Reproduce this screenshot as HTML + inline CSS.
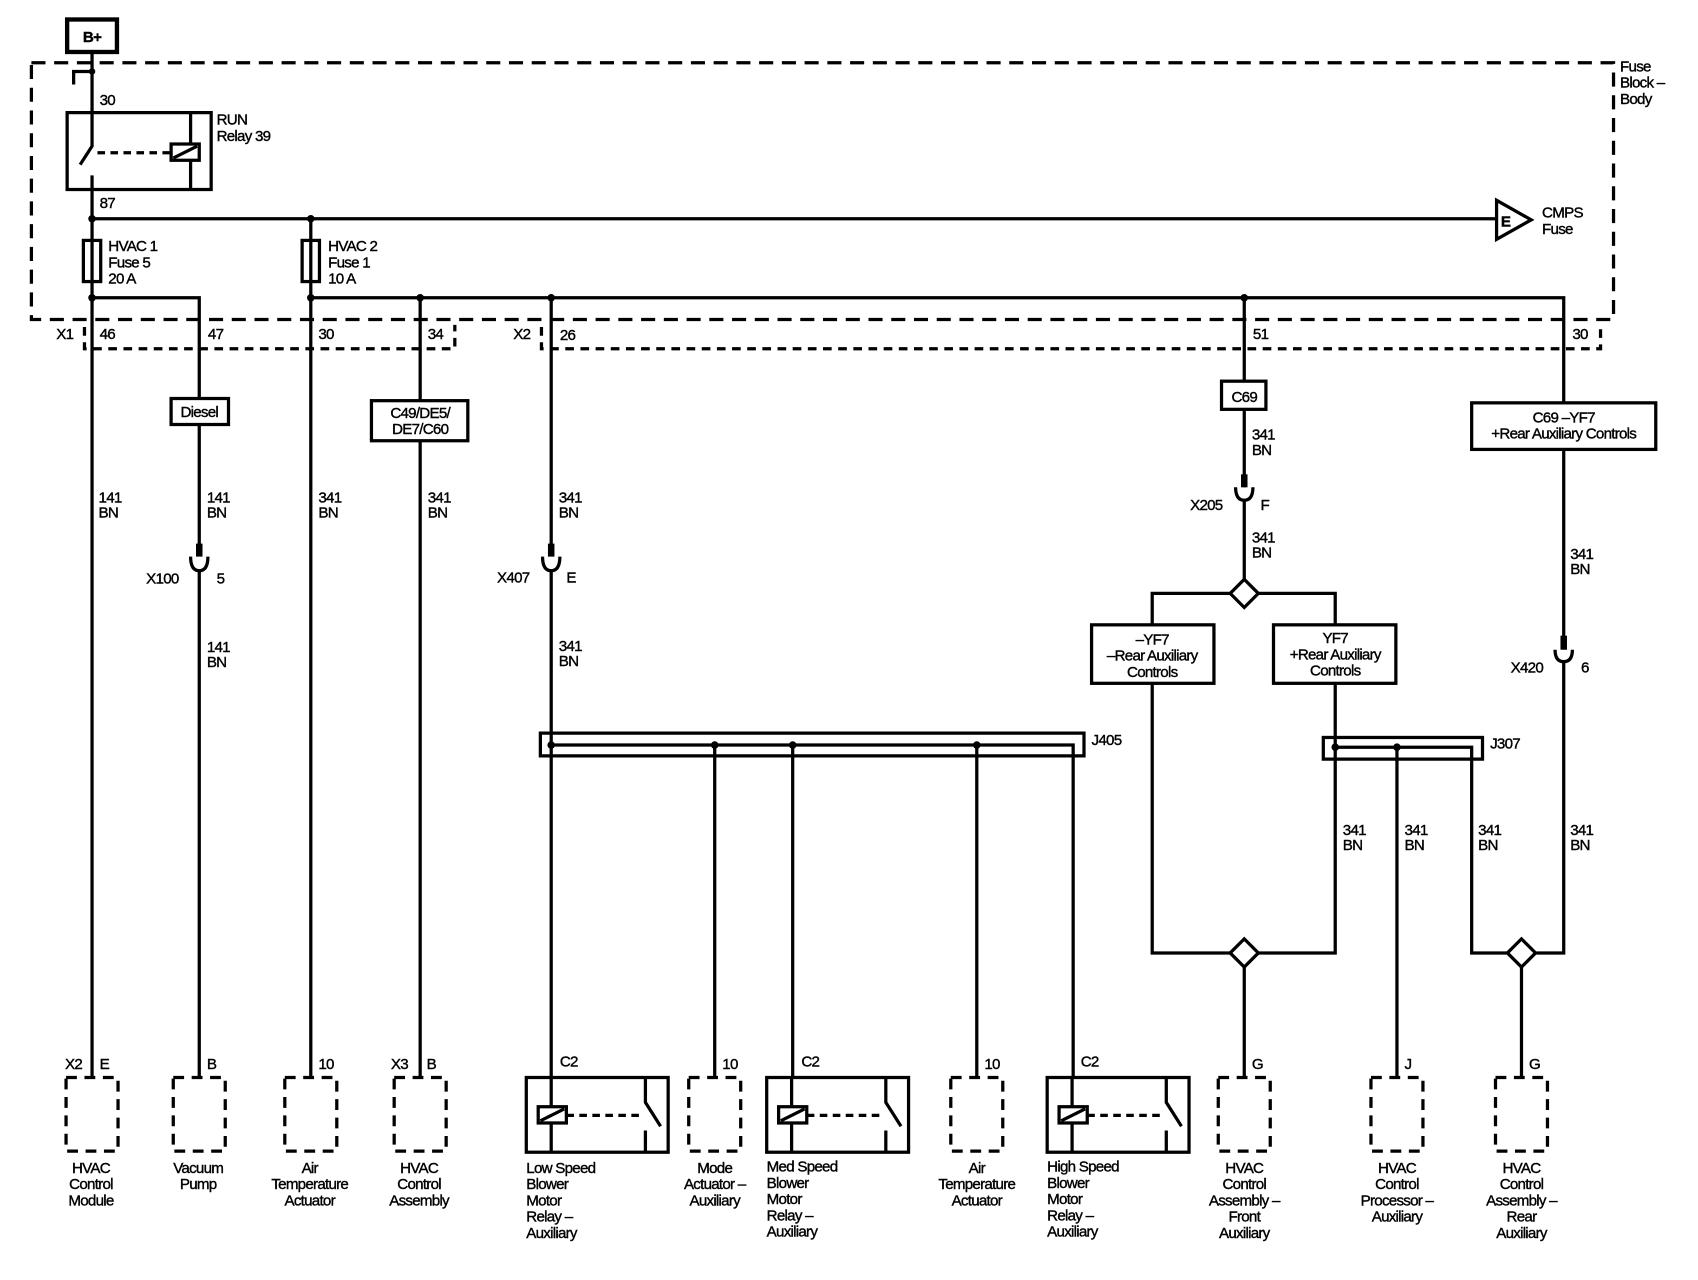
<!DOCTYPE html>
<html><head><meta charset="utf-8"><style>
html,body{margin:0;padding:0;background:#fff}
svg{display:block}
text{font-family:"Liberation Sans",sans-serif;font-size:14px;letter-spacing:-0.7px;fill:#000;stroke:#000;stroke-width:0.35px}
.b{font-weight:bold}
.c{text-anchor:middle}
</style></head><body>
<svg width="1698" height="1280" viewBox="0 0 1568 1182" preserveAspectRatio="none" xmlns="http://www.w3.org/2000/svg">
<g fill="none" stroke="#000" stroke-width="3">
<rect x="62" y="18" width="46" height="30" stroke-width="4"/>
<rect x="29" y="58" width="1461" height="237" stroke-dasharray="13,8"/>
<path d="M85,48V135L74,152M85,162V202"/>
<path d="M68,78V66H85"/>
<rect x="62" y="104" width="133" height="71"/>
<path d="M176,104V175"/>
<path d="M90,141H158" stroke-dasharray="7,5"/>
<rect x="158" y="133" width="26" height="15" stroke-width="3" fill="#fff"/>
<path d="M160,146L182,135"/>
<path d="M85,202H1382"/>
<polygon points="1382,185 1382,221 1414,203"/>
<rect x="77" y="222" width="16" height="38"/>
<rect x="279" y="222" width="16" height="38"/>
<path d="M85,202V995M287,202V995"/>
<path d="M85,275H184V368"/>
<path d="M287,275H1444V372"/>
<path d="M78,302V322H420V300" stroke-dasharray="8,6"/>
<path d="M500,302V322H1478V300" stroke-dasharray="8,6"/>
<rect x="158" y="368" width="53" height="24"/>
<path d="M184,392V512M184,527V995"/>
<path d="M176,514Q176,527 184,527Q192,527 192,514"/>
<rect x="343" y="370" width="89" height="37"/>
<path d="M388,275V370M388,407V995"/>
<path d="M509,275V512M509,527V688"/>
<path d="M501,514Q501,527 509,527Q517,527 517,514"/>
<rect x="499" y="677" width="502" height="21"/>
<path d="M509,688H991V995M509,688V995M660,688V995M732,688V995M902,688V995"/>
<rect x="1128" y="352" width="41" height="26"/>
<path d="M1149,275V352M1149,378V450M1149,462V535"/>
<path d="M1141,450Q1141,462 1149,462Q1157,462 1157,450"/>
<path d="M1136,548L1149,535L1162,548L1149,561Z"/>
<path d="M1136,548H1064V577M1162,548H1233V577"/>
<rect x="1008" y="577" width="113" height="54"/>
<rect x="1176" y="577" width="113" height="54"/>
<path d="M1064,631V880H1136M1233,631V880H1162"/>
<path d="M1136,880L1149,867L1162,880L1149,893Z"/>
<path d="M1149,893V995"/>
<rect x="1222" y="681" width="147" height="20"/>
<path d="M1233,690H1359V880H1392M1290,690V995"/>
<rect x="1359" y="372" width="170" height="43"/>
<path d="M1444,415V598M1444,611V880H1418"/>
<path d="M1436,600Q1436,611 1444,611Q1452,611 1452,600"/>
<path d="M1392,880L1405,867L1418,880L1405,893Z"/>
<path d="M1405,893V995"/>
<g stroke-dasharray="10,7">
<rect x="61" y="995" width="48" height="68"/>
<rect x="160" y="995" width="48" height="68"/>
<rect x="263" y="995" width="48" height="68"/>
<rect x="364" y="995" width="48" height="68"/>
<rect x="636" y="995" width="48" height="68"/>
<rect x="878" y="995" width="48" height="68"/>
<rect x="1125" y="995" width="48" height="68"/>
<rect x="1266" y="995" width="48" height="68"/>
<rect x="1381" y="995" width="48" height="68"/>
</g>
<g id="r1">
<rect x="486" y="995" width="131" height="69"/>
<path d="M509,995V1064M596,995V1018L610,1040M596,1044V1064"/>
<path d="M523,1030H594" stroke-dasharray="7,5"/>
<rect x="497" y="1022" width="26" height="15" fill="#fff"/>
<path d="M499,1035L521,1024"/>
</g>
<use href="#r1" x="222"/>
<use href="#r1" x="481"/>
</g>
<g fill="#000">
<rect x="181" y="502" width="6" height="12"/>
<rect x="506" y="502" width="6" height="12"/>
<rect x="1146" y="438" width="6" height="12"/>
<rect x="1441" y="587" width="6" height="13"/>
<circle cx="85" cy="66" r="3"/><circle cx="85" cy="202" r="3.5"/><circle cx="287" cy="202" r="3.5"/>
<circle cx="85" cy="275" r="3.5"/><circle cx="287" cy="275" r="3.5"/><circle cx="388" cy="275" r="3.5"/>
<circle cx="509" cy="275" r="3.5"/><circle cx="1149" cy="275" r="3.5"/>
<circle cx="509" cy="688" r="3.5"/><circle cx="660" cy="688" r="3.5"/><circle cx="732" cy="688" r="3.5"/><circle cx="902" cy="688" r="3.5"/>
<circle cx="1233" cy="690" r="3.5"/><circle cx="1290" cy="690" r="3.5"/>
</g>
<text x="85" y="39" class="c b">B+</text>
<text x="92" y="97">30</text>
<text x="200" y="115">RUN</text><text x="200" y="130">Relay 39</text>
<text x="92" y="192">87</text>
<text x="1386" y="209" class="b">E</text>
<text x="1424" y="201">CMPS</text><text x="1424" y="216">Fuse</text>
<text x="1496" y="66">Fuse</text><text x="1496" y="81">Block –</text><text x="1496" y="96">Body</text>
<text x="100" y="232">HVAC 1</text><text x="100" y="247">Fuse 5</text><text x="100" y="262">20 A</text>
<text x="303" y="232">HVAC 2</text><text x="303" y="247">Fuse 1</text><text x="303" y="262">10 A</text>
<text x="52" y="313">X1</text><text x="92" y="313">46</text><text x="192" y="313">47</text><text x="294" y="313">30</text><text x="395" y="313">34</text>
<text x="474" y="313">X2</text><text x="517" y="314">26</text><text x="1157" y="313">51</text><text x="1452" y="313">30</text>
<text x="184" y="385" class="c">Diesel</text>
<text x="388" y="386" class="c">C49/DE5/</text><text x="388" y="401" class="c">DE7/C60</text>
<text x="1149" y="371" class="c">C69</text>
<text x="1444" y="390" class="c">C69 –YF7</text><text x="1444" y="405" class="c">+Rear Auxiliary Controls</text>
<text x="91" y="464">141</text><text x="91" y="478">BN</text>
<text x="191" y="464">141</text><text x="191" y="478">BN</text>
<text x="294" y="464">341</text><text x="294" y="478">BN</text>
<text x="395" y="464">341</text><text x="395" y="478">BN</text>
<text x="516" y="464">341</text><text x="516" y="478">BN</text>
<text x="135" y="539">X100</text><text x="200" y="539">5</text>
<text x="191" y="602">141</text><text x="191" y="616">BN</text>
<text x="459" y="538">X407</text><text x="523" y="538">E</text>
<text x="516" y="601">341</text><text x="516" y="615">BN</text>
<text x="1156" y="406">341</text><text x="1156" y="420">BN</text>
<text x="1099" y="471">X205</text><text x="1164" y="471">F</text>
<text x="1156" y="501">341</text><text x="1156" y="515">BN</text>
<text x="1450" y="516">341</text><text x="1450" y="530">BN</text>
<text x="1395" y="621">X420</text><text x="1460" y="621">6</text>
<text x="1064" y="595" class="c">–YF7</text><text x="1064" y="610" class="c">–Rear Auxiliary</text><text x="1064" y="625" class="c">Controls</text>
<text x="1233" y="594" class="c">YF7</text><text x="1233" y="609" class="c">+Rear Auxiliary</text><text x="1233" y="624" class="c">Controls</text>
<text x="1008" y="688">J405</text><text x="1376" y="691">J307</text>
<text x="1240" y="771">341</text><text x="1240" y="785">BN</text>
<text x="1297" y="771">341</text><text x="1297" y="785">BN</text>
<text x="1365" y="771">341</text><text x="1365" y="785">BN</text>
<text x="1450" y="771">341</text><text x="1450" y="785">BN</text>
<text x="60" y="987">X2</text><text x="92" y="987">E</text>
<text x="191" y="987">B</text><text x="294" y="987">10</text>
<text x="361" y="987">X3</text><text x="394" y="987">B</text>
<text x="517" y="985">C2</text><text x="667" y="987">10</text><text x="740" y="985">C2</text>
<text x="909" y="987">10</text><text x="998" y="985">C2</text>
<text x="1156" y="987">G</text><text x="1297" y="987">J</text><text x="1412" y="987">G</text>
<text x="84" y="1083" class="c">HVAC</text><text x="84" y="1098" class="c">Control</text><text x="84" y="1113" class="c">Module</text>
<text x="183" y="1083" class="c">Vacuum</text><text x="183" y="1098" class="c">Pump</text>
<text x="286" y="1083" class="c">Air</text><text x="286" y="1098" class="c">Temperature</text><text x="286" y="1113" class="c">Actuator</text>
<text x="387" y="1083" class="c">HVAC</text><text x="387" y="1098" class="c">Control</text><text x="387" y="1113" class="c">Assembly</text>
<text x="660" y="1083" class="c">Mode</text><text x="660" y="1098" class="c">Actuator –</text><text x="660" y="1113" class="c">Auxiliary</text>
<text x="902" y="1083" class="c">Air</text><text x="902" y="1098" class="c">Temperature</text><text x="902" y="1113" class="c">Actuator</text>
<text x="1149" y="1083" class="c">HVAC</text><text x="1149" y="1098" class="c">Control</text><text x="1149" y="1113" class="c">Assembly –</text><text x="1149" y="1128" class="c">Front</text><text x="1149" y="1143" class="c">Auxiliary</text>
<text x="1290" y="1083" class="c">HVAC</text><text x="1290" y="1098" class="c">Control</text><text x="1290" y="1113" class="c">Processor –</text><text x="1290" y="1128" class="c">Auxiliary</text>
<text x="1405" y="1083" class="c">HVAC</text><text x="1405" y="1098" class="c">Control</text><text x="1405" y="1113" class="c">Assembly –</text><text x="1405" y="1128" class="c">Rear</text><text x="1405" y="1143" class="c">Auxiliary</text>
<text x="486" y="1083">Low Speed</text><text x="486" y="1098">Blower</text><text x="486" y="1113">Motor</text><text x="486" y="1128">Relay –</text><text x="486" y="1143">Auxiliary</text>
<text x="708" y="1082">Med Speed</text><text x="708" y="1097">Blower</text><text x="708" y="1112">Motor</text><text x="708" y="1127">Relay –</text><text x="708" y="1142">Auxiliary</text>
<text x="967" y="1082">High Speed</text><text x="967" y="1097">Blower</text><text x="967" y="1112">Motor</text><text x="967" y="1127">Relay –</text><text x="967" y="1142">Auxiliary</text>
</svg>
</body></html>
